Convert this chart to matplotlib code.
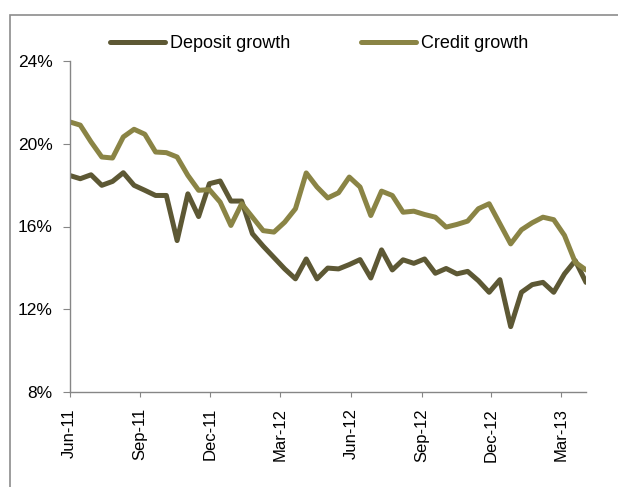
"""Deposit vs credit growth, fortnightly, Jun-11 to Apr-13."""

import matplotlib
import matplotlib.pyplot as plt
import matplotlib.dates as mdates
import pandas as pd
from matplotlib.patches import Rectangle

matplotlib.use("Agg")

plt.rcParams["font.family"] = ["Liberation Sans", "DejaVu Sans"]

# Fortnightly reporting dates (49 observations).
DATES = pd.date_range("2011-06-03", periods=49, freq="14D")

# Year-on-year growth, %.
DEPOSIT_GROWTH = [
    18.47, 18.31, 18.50, 17.99, 18.18, 18.60, 17.99, 17.75, 17.50, 17.50,
    15.32, 17.58, 16.48, 18.07, 18.20, 17.23, 17.23, 15.65, 15.05, 14.50,
    13.95, 13.47, 14.43, 13.47, 13.99, 13.95, 14.16, 14.40, 13.51, 14.87,
    13.90, 14.39, 14.22, 14.43, 13.74, 13.97, 13.71, 13.83, 13.38, 12.82,
    13.43, 11.16, 12.82, 13.19, 13.30, 12.82, 13.71, 14.35, 13.30,
]
CREDIT_GROWTH = [
    21.06, 20.90, 20.09, 19.36, 19.31, 20.33, 20.70, 20.46, 19.60, 19.57,
    19.36, 18.47, 17.75, 17.78, 17.18, 16.05, 17.10, 16.45, 15.80, 15.73,
    16.21, 16.86, 18.59, 17.91, 17.38, 17.63, 18.39, 17.91, 16.53, 17.71,
    17.50, 16.69, 16.74, 16.58, 16.45, 15.97, 16.10, 16.26, 16.86, 17.10,
    16.13, 15.16, 15.84, 16.18, 16.45, 16.33, 15.57, 14.27, 13.90,
]
Y_TICKS = [8, 12, 16, 20, 24]

DEPOSIT_COLOR = "#5d5834"
CREDIT_COLOR = "#8a8445"
AXIS_GREY = "#868686"

fig = plt.figure(figsize=(6.18, 4.87), dpi=100)
ax = fig.add_axes([69.5 / 618, 1 - 392 / 487, (586 - 69.5) / 618, (392 - 61) / 487])

ax.plot(DATES, DEPOSIT_GROWTH, color=DEPOSIT_COLOR, lw=3.6,
        solid_capstyle="round", solid_joinstyle="round", label="Deposit growth")
ax.plot(DATES, CREDIT_GROWTH, color=CREDIT_COLOR, lw=3.6,
        solid_capstyle="round", solid_joinstyle="round", label="Credit growth")

ax.set_xlim(DATES[0], DATES[-1])
ax.set_ylim(Y_TICKS[0], Y_TICKS[-1])
ax.set_yticks(Y_TICKS)
ax.set_yticklabels([f"{t}%" for t in Y_TICKS])

ax.xaxis.set_major_locator(mdates.MonthLocator(bymonth=(3, 6, 9, 12), bymonthday=3))
ax.xaxis.set_major_formatter(mdates.DateFormatter("%b-%y"))
for lbl in ax.get_xticklabels():
    lbl.set_rotation(90)
    lbl.set_va("top")
    lbl.set_ha("center")

for side in ("top", "right"):
    ax.spines[side].set_visible(False)
for side in ("left", "bottom"):
    ax.spines[side].set_color(AXIS_GREY)
    ax.spines[side].set_linewidth(1.0)

ax.tick_params(axis="y", direction="out", length=5, width=0.8, color=AXIS_GREY,
               labelsize=12.5, pad=7)
ax.tick_params(axis="x", direction="out", length=3.5, width=0.8, color=AXIS_GREY,
               labelsize=12, pad=8)

ax.legend(loc="center", bbox_to_anchor=(319 / 618, 1 - 44 / 487),
          bbox_transform=fig.transFigure, ncol=2, frameon=False, fontsize=13,
          handlelength=3.05, handletextpad=0.3, columnspacing=3.9)

# grey border of the surrounding chart area (cropped at right and bottom)
fig.patches.append(Rectangle((10 / 618, -0.1), 1.0, 1.1 - 15 / 487, fill=False,
                             edgecolor="#8c8c8c", lw=1.2, transform=fig.transFigure,
                             figure=fig, clip_on=False))

fig.savefig("out.png", dpi=100)
